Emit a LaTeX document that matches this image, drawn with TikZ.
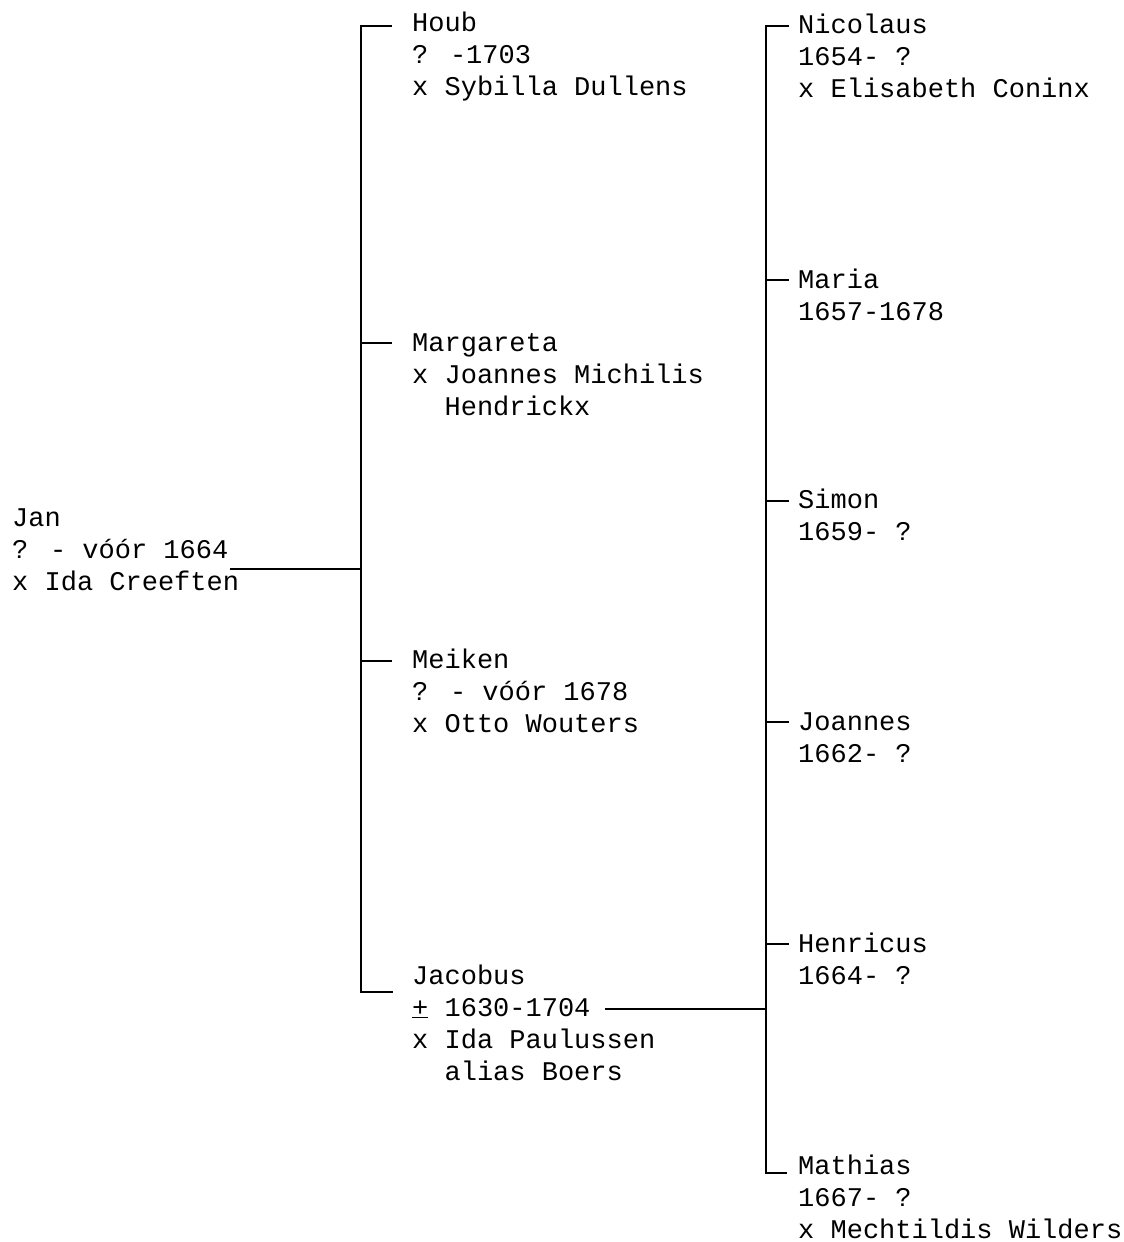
\documentclass[tikz,border=0pt]{standalone}
\usepackage{fontspec}
\setmainfont{Liberation Mono}
\begin{document}
\begin{tikzpicture}[x=1pt,y=-1pt,
  person/.style={anchor=north west,inner sep=0pt,align=left,
    font=\fontsize{27}{32}\selectfont},
  link/.style={line width=2.6pt,line cap=butt,line join=miter}]
\useasboundingbox (0,0) rectangle (1124,1242);
% generation 1
\node[person] (jan) at (12,503.6) {\strut Jan\\? - vóór 1664\\x Ida Creeften};
% generation 2
\node[person] (houb) at (412,8.6) {\strut Houb\\? -1703\\x Sybilla Dullens};
\node[person] (marg) at (412,328.6) {\strut Margareta\\x Joannes Michilis\\\ \ Hendrickx};
\node[person] (meik) at (412,645.6) {\strut Meiken\\? - vóór 1678\\x Otto Wouters};
\node[person] (jaco) at (412,961.6) {\strut Jacobus\\\underline{+} 1630-1704\\x Ida Paulussen\\\ \ alias Boers};
% generation 3
\node[person] (nico) at (798,10.6) {\strut Nicolaus\\1654- ?\\x Elisabeth Coninx};
\node[person] (mari) at (798,265.6) {\strut Maria\\1657-1678};
\node[person] (simo) at (798,485.6) {\strut Simon\\1659- ?};
\node[person] (joan) at (798,707.6) {\strut Joannes\\1662- ?};
\node[person] (henr) at (798,929.6) {\strut Henricus\\1664- ?};
\node[person] (math) at (798,1151.6) {\strut Mathias\\1667- ?\\x Mechtildis Wilders};
% bus coordinates
\coordinate (janend) at (230,569);
\coordinate (b1top) at (361,26);
\coordinate (b1bot) at (361,992);
\coordinate (houbt) at (392,26);
\coordinate (jacot) at (393,992);
\coordinate (margt) at (392,343);
\coordinate (meikt) at (392,661);
\coordinate (jacend) at (605,1009);
\coordinate (b2top) at (766,26);
\coordinate (b2bot) at (766,1173);
\coordinate (nicot) at (789,26);
\coordinate (matht) at (787,1173);
% connectors
\draw[link] (janend) -- (janend -| b1top);
\draw[link] (houbt) -- (b1top) -- (b1bot) -- (jacot);
\draw[link] (margt -| b1top) -- (margt);
\draw[link] (meikt -| b1top) -- (meikt);
\draw[link] (jacend) -- (jacend -| b2top);
\draw[link] (nicot) -- (b2top) -- (b2bot) -- (matht);
\draw[link] (b2top |- 0,280) -- (789,280);
\draw[link] (b2top |- 0,501) -- (789,501);
\draw[link] (b2top |- 0,722) -- (789,722);
\draw[link] (b2top |- 0,944) -- (789,944);
\end{tikzpicture}
\end{document}
